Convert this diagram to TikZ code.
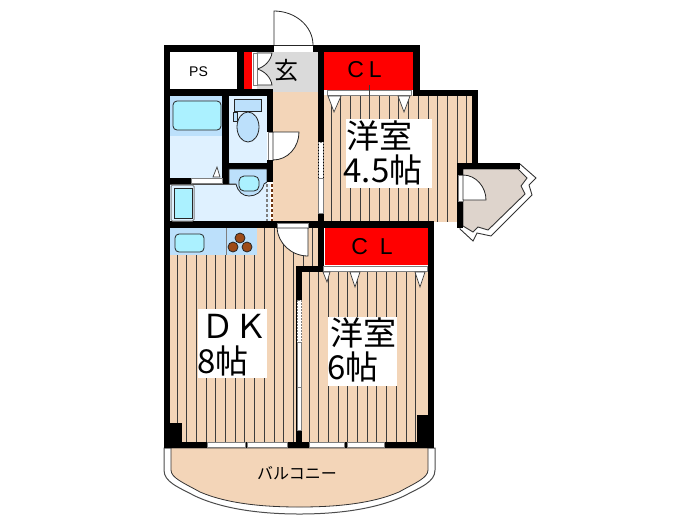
\documentclass[tikz,border=0pt]{standalone}
\usepackage{fontspec}
\setmainfont{Liberation Sans}
\newfontfamily\jpfont{Noto Sans CJK JP}
\definecolor{floorpeach}{HTML}{F3D5B8}
\definecolor{entrygray}{HTML}{DADADA}
\definecolor{wetlight}{HTML}{DFF1FF}
\definecolor{wetmid}{HTML}{BCE0FB}
\definecolor{fixcyan}{HTML}{ABF1FF}
\definecolor{baytaupe}{HTML}{DED4CC}
\definecolor{burnerbrown}{HTML}{9E4B17}
\definecolor{linegray}{HTML}{7F7F7F}
\definecolor{stripedark}{HTML}{3C3C3C}
\tikzset{
  wall/.style={fill=black},
  closet/.style={fill=red},
  stripe/.style={draw=stripedark,line width=0.9pt},
  doorleaf/.style={fill=white,draw=black!85,line width=0.8pt},
  slidestrip/.style={fill=white,draw=linegray,line width=0.8pt},
  fixture/.style={draw=black!85,line width=0.8pt},
  hanger/.style={fill=white,draw=black!75,line width=0.7pt},
  roomtext/.style={inner sep=0,outer sep=0,font=\jpfont\fontsize{33}{33}\selectfont},
  cltext/.style={inner sep=0,outer sep=0,font=\fontsize{23}{23}\selectfont}
}
\begin{document}
\begin{tikzpicture}[x=1pt,y=-1pt]
\useasboundingbox (0,0) rectangle (700,525);
% balcony
\path[fill=white,draw=black!70,line width=1pt] (164,448) -- (164,470) .. controls (164,482) and (178,487) .. (195,496) .. controls (225,510) and (265,514) .. (299.5,514) .. controls (334,514) and (374,510) .. (404,496) .. controls (421,487) and (435,482) .. (435,470) -- (435,448) -- cycle;
\path[fill=floorpeach,draw=black!80,line width=0.8pt] (171,448) -- (171,470) .. controls (171,478) and (184,483) .. (200,492) .. controls (228,504) and (265,507) .. (299.5,507) .. controls (334,507) and (371,504) .. (399,492) .. controls (415,483) and (428,478) .. (428,470) -- (428,448) -- cycle;
% floors
\fill[floorpeach] (170,228) rectangle (318,442);
\fill[floorpeach] (302,272) rectangle (428,442);
\fill[floorpeach] (324,95) rectangle (472,222);
\fill[floorpeach] (273,92) rectangle (318,222);
\fill[entrygray] (257,52) rectangle (318,92);
\fill[wetlight] (170,96) rectangle (222,178);
\fill[wetmid] (170,96) rectangle (222,136);
\fill[wetlight] (229,96) rectangle (267,163);
\fill[wetmid] (229,169) rectangle (267,184);
\fill[wetlight] (170,184) rectangle (270,221);
% stripes
\foreach \k in {0,...,8} \draw[stripe] ({177+9.7*\k},255) -- ({177+9.7*\k},442);
\foreach \k in {9,...,12} \draw[stripe] ({177+9.7*\k},228) -- ({177+9.7*\k},442);
\foreach \k in {13,14} \draw[stripe] ({177+9.7*\k},228) -- ({177+9.7*\k},267);
\foreach \k in {0,...,11} \draw[stripe] ({309+9.7*\k},272) -- ({309+9.7*\k},442);
\foreach \k in {0,...,12} \draw[stripe] ({331+9.7*\k},96) -- ({331+9.7*\k},222);
\foreach \k in {13,14} \draw[stripe] ({331+9.7*\k},96) -- ({331+9.7*\k},163);
% bay floor
\path[fill=white,draw=black!80,line width=0.9pt] (520,164) -- (536,178) -- (529,185) -- (532,195) -- (491,236) -- (477,233) -- (473,241) -- (460,229) -- (463,169) -- cycle;
\path[fill=baytaupe,draw=black!80,line width=0.9pt] (463,169) -- (518,169) -- (527,178) -- (521,186) -- (525,194) -- (488,230) -- (478,227) -- (473,232) -- (463,226) -- cycle;
% closets
\fill[closet] (324,52) rectangle (413,90);
\fill[closet] (325,228) rectangle (428,265);
\fill[closet] (244,52) rectangle (252,90);
% walls
\fill[wall] (164,45) rectangle (420,52);
\fill[wall] (164,45) rectangle (170,448);
\fill[wall] (413,45) rectangle (420,96);
\fill[wall] (413,90) rectangle (478,96);
\fill[wall] (472,90) rectangle (478,169);
\fill[wall] (457,163) rectangle (520,169);
\fill[wall] (457,163) rectangle (463,228);
\fill[wall] (164,221) rectangle (434,228);
\fill[wall] (428,222) rectangle (434,448);
\fill[wall] (318,45) rectangle (324,267);
\fill[wall] (296,266) rectangle (325,272);
\fill[wall] (296,266) rectangle (302,448);
\fill[wall] (164,442) rectangle (434,448);
\fill[wall] (170,423) rectangle (182,442);
\fill[wall] (417,415) rectangle (428,442);
\fill[wall] (164,89) rectangle (273,96);
\fill[wall] (237,45) rectangle (244,96);
\fill[wall] (222,96) rectangle (229,184);
\fill[wall] (267,96) rectangle (273,132);
\fill[wall] (229,163) rectangle (273,169);
\fill[wall] (267,160) rectangle (273,182);
\fill[wall] (170,178) rectangle (191,184);
\fill[wall] (229,182) rectangle (237,184);
% PS and text plates
\fill[white] (170,52) rectangle (237,89);
\fill[white] (252,52) rectangle (257,89);
\fill[white] (346,119) rectangle (432,188);
\fill[white] (198,309) rectangle (267,378);
\fill[white] (328,317) rectangle (397,386);
% entrance door
\fill[white] (274,45) rectangle (313,52);
\path[doorleaf] (274,45) -- (274,11) .. controls (295,11) and (313,26) .. (313,45);
\draw[draw=black!85,line width=0.8pt] (274,45) -- (313,45);
\path[doorleaf] (257,53) -- (272,53) .. controls (271,60) and (265,67) .. (257,69) -- cycle;
\path[doorleaf] (257,85) -- (272,85) .. controls (271,78) and (265,71) .. (257,69) -- cycle;
\draw[slidestrip] (253,53) rectangle (257,85);
% inner doors
\fill[white] (268,132) rectangle (272,160);
\draw[slidestrip] (268,132) rectangle (273,160);
\path[doorleaf] (273,132) -- (299,132) .. controls (299,147) and (288,160) .. (273,160) -- cycle;
\fill[white] (277,223) rectangle (308,228);
\draw[slidestrip] (277,223) rectangle (308,228);
\path[doorleaf] (308,228) -- (277,228) .. controls (278,243) and (291,256) .. (308,256) -- cycle;
\fill[white] (458,175) rectangle (463,201);
\draw[slidestrip] (458,175) rectangle (463,201);
\path[doorleaf] (463,175) .. controls (476,175) and (486,187) .. (486,200) -- (463,200) -- cycle;
% closet doors
\draw[slidestrip] (327,90) rectangle (411,95);
\draw[stripedark,line width=0.7pt] (369,85) -- (369,97);
\draw[hanger] (328,96) -- (341,96) -- (334,112) -- cycle;
\draw[hanger] (398,96) -- (410,96) -- (404,112) -- cycle;
\draw[slidestrip] (323,266) rectangle (427,271);
\draw[hanger] (323,272) -- (330,272) -- (327,282) -- cycle;
\draw[hanger] (350,272) -- (360,272) -- (355,287) -- cycle;
\draw[hanger] (415,272) -- (425,272) -- (420,287) -- cycle;
% sliding doors
\draw[slidestrip,dash pattern=on 2pt off 1pt] (318.5,142) rectangle (323,178);
\draw[slidestrip] (318.5,178) rectangle (323,213);
\draw[slidestrip,dash pattern=on 2pt off 1pt] (297,300) rectangle (301.5,342);
\draw[slidestrip] (297,342) rectangle (301.5,387);
\draw[slidestrip] (297,387) rectangle (301.5,430);
% windows
\foreach \xa/\xb in {207/245,247/287,309/344,347/384} \draw[slidestrip] (\xa,442.5) rectangle (\xb,447);
% bath
\draw[fixture,fill=fixcyan,rounded corners=4pt] (173,101) rectangle (221,130);
\fill[white] (191,178) rectangle (222,183);
\draw[linegray,line width=0.6pt] (191,178) rectangle (222,183);
\draw[hanger] (213,177) -- (220,177) -- (217,167) -- cycle;
% toilet
\draw[fixture,fill=wetmid] (234,99) rectangle (261,111);
\draw[fixture,fill=wetmid] (233,112) rectangle (237,121);
\draw[fixture,fill=wetmid] (248,127) ellipse [x radius=11,y radius=15];
% wash basin
\path[fill=wetmid,draw=black!85,line width=0.8pt] (229,184) -- (236,184) .. controls (238,192) and (243,196) .. (249,196) .. controls (256,196) and (262,192) .. (264,184) -- (267,182) -- (267,169) -- (229,169) -- cycle;
\fill[wall] (267,160) rectangle (273,182);
\draw[fixture,fill=fixcyan,rounded corners=5pt] (239,176) rectangle (259,191);
\draw[fixture,draw=black!70] (170,184) -- (236,184);
% washer
\draw[fill=wetlight,draw=linegray,line width=1pt,rounded corners=1.5pt] (171,185) rectangle (194,221);
\draw[fixture,fill=fixcyan] (174,188) rectangle (192,218);
% dotted edge of wash room
\draw[linegray,line width=1.3pt,dash pattern=on 2.5pt off 2.5pt] (267,184) -- (267,221);
\draw[burnerbrown!70!black,line width=1.3pt,dash pattern=on 2.5pt off 2.5pt] (272,184) -- (272,221);
% kitchen
\fill[wetmid] (170,228) rectangle (257,255);
\draw[linegray,line width=0.8pt] (226,228) -- (226,255);
\draw[fixture,fill=fixcyan,rounded corners=4pt] (175,234) rectangle (204,252);
\foreach \cx/\cy in {240/238,233/247,247/247} \draw[fixture,fill=burnerbrown] (\cx,\cy) circle (5);
% labels
\node (ps) at (198.5,72) [font=\fontsize{14}{14}\selectfont,inner sep=0] {PS};
\node (genkan) at (286,70) [inner sep=0,font=\jpfont\fontsize{24}{24}\selectfont] {玄};
\node (clupper) at (364.5,70) [cltext] {C\hspace{5pt}L};
\node (cllower) at (372,247) [cltext] {C\hspace{12pt}L};
\node (roomsmall) at (379,136) [roomtext] {洋室};
\node (roomsmallsize) at (383,170) [roomtext] {4.5帖};
\node (dk) at (234,326) [roomtext] {ＤＫ};
\node (dksize) at (223,361) [roomtext] {8帖};
\node (roomlarge) at (363,333) [roomtext] {洋室};
\node (roomlargesize) at (353,367) [roomtext] {6帖};
\node (balcony) at (297,473.5) [inner sep=0,font=\jpfont\fontsize{16}{16}\selectfont] {バルコニー};
\end{tikzpicture}
\end{document}
